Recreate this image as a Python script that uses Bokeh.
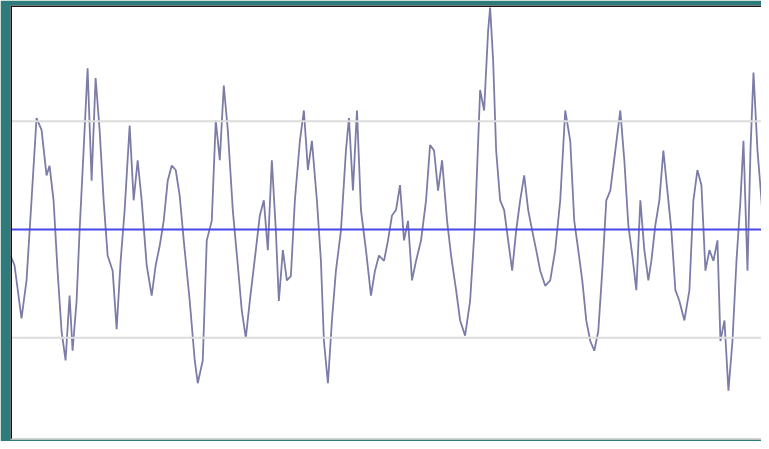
from bokeh.plotting import figure
from bokeh.models import Range1d, Span
from bokeh.embed import file_html
from bokeh.resources import INLINE

# time index (samples) and signal values (centre 0, grey guide lines at +/-1)
t = [11, 15, 22, 27, 32, 37, 42, 47, 50, 54, 58, 62, 66, 70, 73, 77, 80, 84, 88, 92,
     96, 100, 104, 108, 113, 117, 121, 125, 130, 134, 138, 142, 147, 152, 156, 160, 164, 168, 172, 176,
     180, 184, 190, 195, 198, 203, 207, 212, 216, 220, 224, 228, 233, 238, 242, 246, 250, 256, 260, 264,
     268, 272, 276, 279, 283, 287, 291, 295, 300, 304, 308, 312, 317, 321, 324, 328, 332, 336, 341, 346,
     349, 353, 357, 361, 366, 371, 375, 379, 384, 388, 392, 396, 400, 404, 408, 412, 416, 421, 426, 430,
     434, 438, 442, 447, 451, 456, 460, 465, 470, 475, 480, 484, 488, 490, 493, 496, 500, 504, 508, 512,
     516, 520, 524, 528, 532, 536, 540, 545, 550, 555, 560, 565, 570, 574, 578, 582, 586, 590, 594, 598,
     602, 606, 610, 615, 620, 624, 628, 632, 636, 640, 644, 648, 651, 655, 659, 663, 667, 671, 675, 679,
     684, 689, 693, 697, 701, 705, 709, 713, 717, 720, 724, 728, 732, 736, 740, 743, 747, 750, 753, 757,
     761, 765, 769]
signal = [-0.24, -0.33, -0.82, -0.47, 0.27, 1.03, 0.92, 0.50, 0.59, 0.27, -0.38, -0.94, -1.21, -0.61, -1.12, -0.66, -0.01, 0.73, 1.49, 0.45,
          1.40, 0.92, 0.27, -0.24, -0.38, -0.92, -0.29, 0.18, 0.96, 0.27, 0.64, 0.27, -0.33, -0.61, -0.33, -0.15, 0.08, 0.45, 0.59, 0.55,
          0.31, -0.10, -0.66, -1.21, -1.42, -1.21, -0.10, 0.08, 1.01, 0.64, 1.33, 0.92, 0.18, -0.33, -0.75, -1.00, -0.66, -0.19, 0.13, 0.27,
          -0.19, 0.64, -0.01, -0.66, -0.19, -0.47, -0.43, 0.27, 0.82, 1.10, 0.55, 0.82, 0.27, -0.29, -1.03, -1.42, -0.84, -0.38, -0.01, 0.73,
          1.03, 0.36, 1.10, 0.18, -0.19, -0.61, -0.38, -0.24, -0.29, -0.10, 0.13, 0.18, 0.41, -0.10, 0.08, -0.47, -0.29, -0.10, 0.27, 0.78,
          0.73, 0.36, 0.64, 0.08, -0.24, -0.56, -0.84, -0.98, -0.66, 0.08, 1.29, 1.10, 1.84, 2.05, 1.56, 0.73, 0.27, 0.18, -0.10, -0.38,
          -0.01, 0.27, 0.50, 0.18, -0.01, -0.19, -0.38, -0.52, -0.47, -0.19, 0.27, 1.10, 0.82, 0.08, -0.19, -0.47, -0.84, -1.03, -1.12, -0.94,
          -0.38, 0.27, 0.36, 0.73, 1.10, 0.64, 0.04, -0.24, -0.56, 0.27, -0.19, -0.47, -0.29, 0.04, 0.27, 0.73, 0.36, -0.01, -0.56, -0.66,
          -0.84, -0.56, 0.27, 0.55, 0.41, -0.38, -0.19, -0.29, -0.10, -1.03, -0.84, -1.49, -1.03, -0.29, 0.27, 0.82, -0.38, 0.73, 1.45, 0.73,
          0.27, -0.29, -0.47]
mean_level = [0.0]
guide_levels = [1.0, -1.0]

X0, X1 = 11, 761
Y0, Y1 = -1.94, 2.07

p = figure(width=761, height=441, output_backend="svg", toolbar_location=None,
           x_range=Range1d(X0, X1), y_range=Range1d(Y0, Y1),
           min_border_left=10, min_border_right=0, min_border_top=5, min_border_bottom=2)
p.axis.visible = False
p.grid.visible = False
p.background_fill_color = "white"
p.border_fill_color = "#2e7b7b"
p.outline_line_color = None

for lv in guide_levels:
    p.add_layout(Span(location=lv, dimension="width", line_color="#dcdcdc", line_width=2))

p.line(t, signal, line_color="#6e6e9e", line_width=1.8, line_alpha=0.9)

for lv in mean_level:
    p.add_layout(Span(location=lv, dimension="width", line_color="#4848e8", line_width=2))

# frame edges
p.add_layout(Span(location=X0, dimension="height", line_color="#111111", line_width=3))
p.add_layout(Span(location=Y1, dimension="width", line_color="#1a1a1a", line_width=3))
p.add_layout(Span(location=Y0, dimension="width", line_color="#aaaaaa", line_width=2))

open("out.html", "w").write(file_html(p, INLINE))
